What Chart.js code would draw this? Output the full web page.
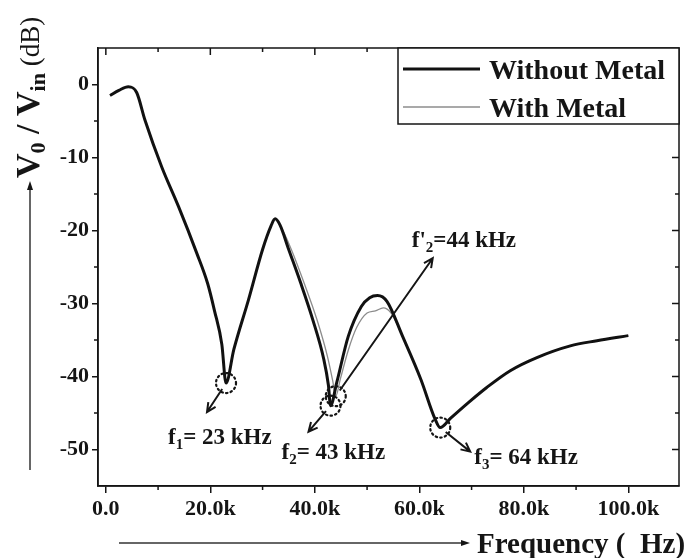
<!DOCTYPE html>
<html>
<head>
<meta charset="utf-8">
<script src="https://cdn.jsdelivr.net/npm/chart.js@4.4.1/dist/chart.umd.min.js"></script>
<style>
  html, body { margin: 0; padding: 0; background: #fff; }
  #wrap { width: 691px; height: 558px; position: relative; }
</style>
</head>
<body>
<div id="wrap"><canvas id="chart"></canvas></div>
<script>
// Transfer ratio V0/Vin (dB) against frequency (Hz)
const seriesNames = ['Without Metal', 'With Metal'];

const freqWithout = [800, 2500, 4300, 5900, 7500, 10700, 13900, 17400, 19500, 20800, 22200, 23000,
  24500, 27300, 30000, 31600, 32400, 33300, 35000, 37300, 39600, 41700, 42600, 43000,
  44200, 46400, 48900, 50500, 52000, 53800, 56800, 60300, 63000, 64000,
  66000, 69500, 72900, 77400, 82500, 88900, 94000, 100000];
const gainWithout = [-1.5, -0.8, -0.3, -1.1, -4.9, -11.3, -16.7, -23.1, -27.3, -31.0, -35.6, -40.9,
  -36.3, -29.5, -22.6, -19.4, -18.4, -19.2, -22.6, -27.2, -32.2, -37.6, -41.2, -44.0,
  -40.8, -34.5, -30.4, -29.2, -28.9, -29.7, -34.5, -40.4, -45.8, -47.0,
  -45.7, -43.5, -41.5, -39.2, -37.4, -35.8, -35.1, -34.4];

const freqWith = [800, 2500, 4300, 5900, 7500, 10700, 13900, 17400, 19500, 20800, 22200, 23000,
  24500, 27300, 30000, 31600, 32400, 33300, 35500, 38000, 40400, 42400, 43400, 44000,
  44900, 46400, 48000, 50000, 51600, 53100, 54600, 55800, 56800, 60300, 63000, 64000,
  66000, 69500, 72900, 77400, 82500, 88900, 94000, 100000];
const gainWith = [-1.5, -0.8, -0.3, -1.1, -4.9, -11.3, -16.7, -23.1, -27.3, -31.0, -35.6, -40.9,
  -36.3, -29.5, -22.6, -19.4, -18.4, -19.2, -22.6, -27.3, -32.2, -37.2, -40.5, -42.7,
  -40.3, -36.4, -33.3, -31.3, -31.0, -30.6, -31.3, -32.9, -34.5, -40.4, -45.8, -47.0,
  -45.7, -43.5, -41.5, -39.2, -37.4, -35.8, -35.1, -34.4];

const xTickValues = [0, 20000, 40000, 60000, 80000, 100000];
const xMinorValues = [10000, 30000, 50000, 70000, 90000];
const yTickValues = [-50, -40, -30, -20, -10, 0];
const yMinorValues = [-45, -35, -25, -15, -5];

// Notch markers: series index, frequency of the notch, label pieces
const notches = [
  { series: 0, freq: 23000, text: [['f', 23], ['1', 15, 5], ['= 23 kHz', 23]], head: [-19, 29], label: [-58, 53] },
  { series: 0, freq: 43000, text: [['f', 23], ['2', 15, 5], ['= 43 kHz', 23]], head: [-22, 26], label: [-49, 45] },
  { series: 1, freq: 44000, text: [["f'", 23], ['2', 15, 5], ['=44 kHz', 23]], head: [97, -138], label: [76, -157] },
  { series: 0, freq: 64000, text: [['f', 23], ['3', 15, 5], ['= 64 kHz', 23]], head: [30, 24], label: [34, 28] }
];

const serif = '"Liberation Serif", "Times New Roman", serif';
const ink = '#151515';

const toPoints = (xs, ys) => xs.map((x, i) => ({ x: x, y: ys[i] }));

function drawRich(ctx, parts, x, y) {
  let cx = x;
  for (const p of parts) {
    ctx.font = (p[3] || 'bold') + ' ' + p[1] + 'px ' + serif;
    ctx.fillText(p[0], cx, y + (p[2] || 0));
    cx += ctx.measureText(p[0]).width;
  }
  return cx - x;
}

function arrow(ctx, x1, y1, x2, y2, head) {
  const a = Math.atan2(y2 - y1, x2 - x1);
  ctx.beginPath();
  ctx.moveTo(x1, y1);
  ctx.lineTo(x2, y2);
  if (head > 0) {
    ctx.moveTo(x2 - head * Math.cos(a - 0.45), y2 - head * Math.sin(a - 0.45));
    ctx.lineTo(x2, y2);
    ctx.lineTo(x2 - head * Math.cos(a + 0.45), y2 - head * Math.sin(a + 0.45));
  }
  ctx.stroke();
}

// Closed frame, mirrored ticks and minor ticks
const framePlugin = {
  id: 'frame',
  afterDraw(chart) {
    const { ctx, chartArea: a, scales: { x, y } } = chart;
    ctx.save();
    ctx.strokeStyle = ink;
    ctx.lineWidth = 1.5;
    ctx.strokeRect(a.left, a.top, a.right - a.left, a.bottom - a.top);
    ctx.beginPath();
    for (const v of xTickValues.concat(xMinorValues)) {
      const px = x.getPixelForValue(v);
      const major = xTickValues.includes(v);
      ctx.moveTo(px, a.top);
      ctx.lineTo(px, a.top + (major ? 7 : 4));
      if (!major) { ctx.moveTo(px, a.bottom); ctx.lineTo(px, a.bottom + 4); }
    }
    for (const v of yTickValues.concat(yMinorValues)) {
      const py = y.getPixelForValue(v);
      const major = yTickValues.includes(v);
      ctx.moveTo(a.right, py);
      ctx.lineTo(a.right - (major ? 7 : 4), py);
      if (!major) { ctx.moveTo(a.left, py); ctx.lineTo(a.left - 4, py); }
    }
    ctx.stroke();
    ctx.restore();
  }
};

// Axis titles with their direction arrows
const titlePlugin = {
  id: 'titles',
  afterDraw(chart) {
    const { ctx } = chart;
    ctx.save();
    ctx.fillStyle = ink;
    ctx.strokeStyle = '#333';
    ctx.textBaseline = 'alphabetic';
    // vertical title
    ctx.save();
    ctx.translate(39, 178);
    ctx.rotate(-Math.PI / 2);
    drawRich(ctx, [['V', 34], ['0', 22, 6], [' / V', 34], ['in', 22, 6], [' (dB)', 27, 0, 'normal']], 0, 0);
    ctx.restore();
    ctx.lineWidth = 1.5;
    arrow(ctx, 30, 470, 30, 186, 0);
    ctx.beginPath();
    ctx.moveTo(30, 181); ctx.lineTo(27, 190); ctx.lineTo(33, 190); ctx.closePath();
    ctx.fill();
    // horizontal title
    ctx.textAlign = 'left';
    drawRich(ctx, [['Frequency (  Hz)', 29]], 477, 553);
    ctx.beginPath();
    ctx.moveTo(119, 543); ctx.lineTo(462, 543); ctx.stroke();
    ctx.beginPath();
    ctx.moveTo(470, 543); ctx.lineTo(461, 540); ctx.lineTo(461, 546); ctx.closePath();
    ctx.fill();
    ctx.restore();
  }
};

// Legend box in the upper right corner of the plot
const legendPlugin = {
  id: 'boxLegend',
  afterDraw(chart) {
    const { ctx, chartArea: a } = chart;
    const ds = chart.data.datasets;
    const left = 398, bottom = 124;
    ctx.save();
    ctx.fillStyle = '#fff';
    ctx.fillRect(left, a.top, a.right - left, bottom - a.top);
    ctx.strokeStyle = ink;
    ctx.lineWidth = 1.5;
    ctx.strokeRect(left, a.top, a.right - left, bottom - a.top);
    const rows = [69, 107];
    ds.forEach((d, i) => {
      ctx.strokeStyle = d.borderColor;
      ctx.lineWidth = d.borderWidth;
      ctx.beginPath();
      ctx.moveTo(403, rows[i]);
      ctx.lineTo(480, rows[i]);
      ctx.stroke();
      ctx.fillStyle = ink;
      ctx.textBaseline = 'alphabetic';
      drawRich(ctx, [[d.label, 28]], 489, rows[i] + 10);
    });
    ctx.restore();
  }
};

// Dotted rings round each notch, arrows and frequency labels
const notchPlugin = {
  id: 'notches',
  afterDatasetsDraw(chart) {
    const { ctx, scales: { x, y } } = chart;
    const series = [[freqWithout, gainWithout], [freqWith, gainWith]];
    ctx.save();
    for (const n of notches) {
      const [fs, gs] = series[n.series];
      const gain = gs[fs.indexOf(n.freq)];
      const px = x.getPixelForValue(n.freq);
      const py = y.getPixelForValue(gain);
      ctx.strokeStyle = ink;
      ctx.lineWidth = 2.2;
      ctx.setLineDash([1.5, 3.2]);
      ctx.lineCap = 'round';
      ctx.beginPath();
      ctx.arc(px, py, 10, 0, Math.PI * 2);
      ctx.stroke();
      ctx.setLineDash([]);
      ctx.lineCap = 'butt';
      const hx = px + n.head[0], hy = py + n.head[1];
      const len = Math.hypot(n.head[0], n.head[1]);
      const sx = px + n.head[0] / len * 7, sy = py + n.head[1] / len * 7;
      ctx.lineWidth = 2;
      arrow(ctx, sx, sy, hx, hy, 10);
      ctx.fillStyle = ink;
      ctx.textBaseline = 'alphabetic';
      drawRich(ctx, n.text, px + n.label[0], py + n.label[1] + 8);
    }
    ctx.restore();
  }
};

const tickFont = { family: serif, size: 22, weight: 'bold' };

new Chart(document.getElementById('chart'), {
  type: 'line',
  data: {
    datasets: [
      {
        label: seriesNames[0],
        data: toPoints(freqWithout, gainWithout),
        borderColor: '#111',
        borderWidth: 3,
        pointRadius: 0,
        cubicInterpolationMode: 'monotone',
        fill: false,
        order: 1
      },
      {
        label: seriesNames[1],
        data: toPoints(freqWith, gainWith),
        borderColor: '#8c8c8c',
        borderWidth: 1.3,
        pointRadius: 0,
        cubicInterpolationMode: 'monotone',
        fill: false,
        order: 2
      }
    ]
  },
  options: {
    responsive: true,
    maintainAspectRatio: false,
    animation: false,
    devicePixelRatio: 1,
    layout: { padding: { top: 48, right: 12, left: 0, bottom: 0 } },
    plugins: { legend: { display: false }, tooltip: { enabled: false } },
    scales: {
      x: {
        type: 'linear',
        min: -1500,
        max: 109700,
        afterBuildTicks: s => { s.ticks = xTickValues.map(v => ({ value: v })); },
        afterFit: s => { s.height = 72; },
        ticks: {
          autoSkip: false, maxRotation: 0, padding: 3, color: ink, font: tickFont,
          callback: v => v === 0 ? '0.0' : (v / 1000).toFixed(1) + 'k'
        },
        grid: { drawOnChartArea: false, color: ink, lineWidth: 1.5, tickLength: 7 },
        border: { color: ink, width: 1.5 }
      },
      y: {
        type: 'linear',
        min: -55,
        max: 5,
        afterBuildTicks: s => { s.ticks = yTickValues.map(v => ({ value: v })); },
        afterFit: s => { s.width = 98; },
        ticks: { autoSkip: false, padding: 3, color: ink, font: tickFont },
        grid: { drawOnChartArea: false, color: ink, lineWidth: 1.5, tickLength: 6 },
        border: { color: ink, width: 1.5 }
      }
    }
  },
  plugins: [framePlugin, notchPlugin, legendPlugin, titlePlugin]
});
</script>
</body>
</html>
